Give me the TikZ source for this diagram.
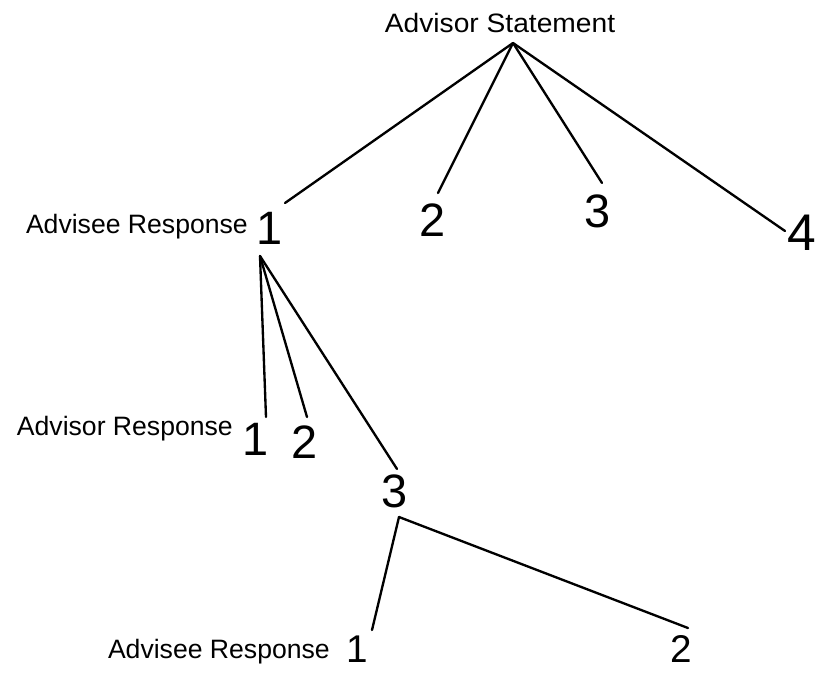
\documentclass[tikz,border=0pt]{standalone}
\usepackage{fontspec}
\usepackage{graphicx}
\setmainfont{Liberation Sans}
\begin{document}
\begin{tikzpicture}[x=0.03cm,y=-0.03cm,
  label/.style={inner sep=0pt,font=\fontsize{22.7}{26}\selectfont},
  digit/.style={inner sep=0pt,anchor=center,font=\fontsize{40}{44}\selectfont},
  smalldigit/.style={digit,font=\fontsize{33}{36}\selectfont},
  branch/.style={line width=2pt,line cap=round,line join=round}]
\useasboundingbox (0,0) rectangle (817,673);

% headings of each level
\node[label,anchor=base] (stmt) at (500,32) {\scalebox{1.06}[1]{Advisor Statement}};
\node[label,anchor=base east] (resp1) at (248,233) {Advisee Response};
\node[label,anchor=base east] (resp2) at (233,435) {Advisor Response};
\node[label,anchor=base east] (resp3) at (330,658) {Advisee Response};

% numbered responses
\node[digit] (a1) at (270,228) {1};
\node[digit] (a2) at (433,220) {2};
\node[digit] (a3) at (598,211) {3};
\node[digit,font=\fontsize{44}{48}\selectfont] (a4) at (802,233) {4};
\node[digit] (b1) at (256,439) {1};
\node[digit] (b2) at (305,442) {2};
\node[digit] (b3) at (395,491) {3};
\node[smalldigit] (c1) at (357,649) {1};
\node[smalldigit] (c2) at (681,649) {2};

% branch points
\coordinate (topA) at (513,43);
\coordinate (topB) at (260,256);
\coordinate (topC) at (399,517);

% ends of the branches, just above each number
\coordinate (ea1) at (285,203);
\coordinate (ea2) at (438,193);
\coordinate (ea3) at (602,183);
\coordinate (ea4) at (785,231);
\coordinate (eb1) at (266,417);
\coordinate (eb2) at (307,417);
\coordinate (eb3) at (397,469);
\coordinate (ec1) at (372,630);
\coordinate (ec2) at (688,628);

\draw[branch] (topA) -- (ea1);
\draw[branch] (topA) -- (ea2);
\draw[branch] (topA) -- (ea3);
\draw[branch] (topA) -- (ea4);
\draw[branch] (topB) -- (eb1);
\draw[branch] (topB) -- (eb2);
\draw[branch] (topB) -- (eb3);
\draw[branch] (topC) -- (ec1);
\draw[branch] (topC) -- (ec2);
\end{tikzpicture}
\end{document}
